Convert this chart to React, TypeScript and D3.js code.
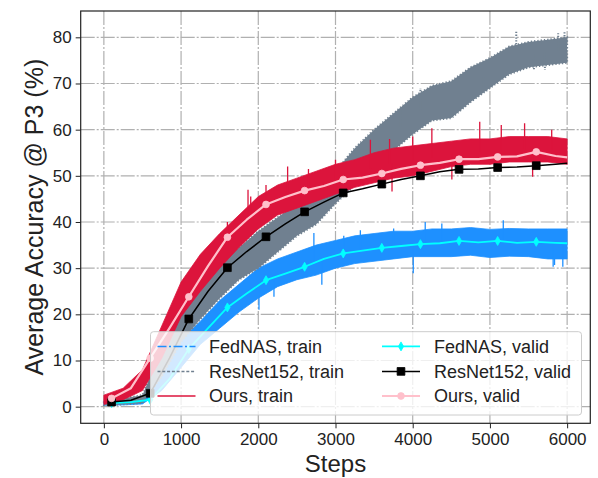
import React, { useEffect, useRef } from "react";
import * as d3 from "d3";

// x positions of the train band readings (steps)
const trainSteps = [0, 250, 500, 750, 1000, 1250, 1500, 1750, 2000, 2250, 2500, 2750, 3000, 3250, 3500, 3750, 4000, 4250, 4500, 4750, 5000, 5250, 5500, 5750, 6000];

// train curves are very noisy, so they are kept as a low / high envelope
const fedTrainLow = [0.3, 0.4, 0.6, 3.5, 8.5, 13.5, 17, 20.5, 23.5, 26, 27.5, 28.5, 30, 31, 31.5, 32, 32.5, 32.5, 32.5, 32.8, 32.3, 32.6, 32.5, 32, 32];
const fedTrainHigh = [1.2, 1.4, 2, 8.5, 14.5, 18.5, 23, 26.5, 30, 32, 33.5, 35, 36, 37, 37.5, 38, 38, 38.5, 38.5, 38.8, 38.4, 38.6, 38.5, 38.5, 38.5];
const resTrainLow = [0.3, 0.5, 0.8, 6.5, 14, 19, 23.5, 27.5, 30, 33.5, 37, 39.5, 44, 48, 52, 55.5, 59, 62, 62.5, 66, 69, 72, 73.5, 74, 74.5];
const resTrainHigh = [1.5, 1.8, 2.5, 12.5, 21, 27, 31, 34.5, 38, 41, 44, 47, 51, 56, 60, 63.5, 67, 69.5, 70.5, 73.5, 75.5, 78, 79, 79.5, 80];
const ourTrainLow = [0.5, 1.5, 3.5, 10.5, 19.5, 25, 30, 34.5, 38.5, 41.5, 43, 44.5, 46, 47.5, 48.5, 49.5, 50, 51, 52, 52.5, 52.5, 53, 53, 53, 52.5];
const ourTrainHigh = [2.5, 4, 8, 17.5, 27, 33, 37.5, 41.5, 45.5, 48, 49.5, 51, 52.5, 53.5, 55, 56, 56.5, 57, 57.5, 58, 58, 58.5, 58.5, 58.5, 58];

// single spikes that stick out of the bands
const fedSpikeSteps = [2009, 2203, 2720, 2823, 3107, 3322, 3753, 4007, 4162, 4377, 5173, 5819, 5837, 5944];
const fedSpikeValues = [21, 23.8, 37.6, 26.4, 37, 38.2, 38.6, 28.9, 40, 39.7, 40.4, 30.3, 30.7, 30.3];
const resSpikeSteps = [3840, 4100, 4911, 5341, 5570, 5712, 5884, 5966];
const resSpikeValues = [64.2, 69, 69, 81.2, 72.9, 72.9, 80.9, 81.2];
const ourSpikeSteps = [1600, 1867, 1902, 2100, 2380, 2650, 3000, 3452, 3700, 3732, 4000, 4248, 4507, 4868, 5147, 5449, 5553, 5800];
const ourSpikeValues = [40, 47, 45.5, 48, 52, 51.5, 53.5, 57.8, 58, 46.6, 58.5, 60.3, 49.2, 61.7, 61, 61.4, 49.8, 60];

// validation curves
const validSteps = [100, 350, 600, 850, 1100, 1350, 1600, 1850, 2100, 2350, 2600, 2850, 3100, 3350, 3600, 3850, 4100, 4350, 4600, 4850, 5100, 5350, 5600, 5850, 6000];
const markerSteps = [100, 600, 1100, 1600, 2100, 2600, 3100, 3600, 4100, 4600, 5100, 5600];
const fedValid = [0.8, 1.0, 1.5, 6.0, 12.5, 17.0, 21.5, 24.5, 27.4, 28.8, 30.3, 32.0, 33.2, 33.8, 34.4, 34.8, 35.2, 35.4, 35.9, 35.6, 35.9, 35.5, 35.7, 35.5, 35.4];
const resValid = [1.0, 1.4, 2.9, 10.5, 19.0, 25.0, 30.1, 33.6, 36.8, 39.6, 42.2, 44.3, 46.3, 47.2, 48.2, 49.2, 50.0, 50.9, 51.4, 51.5, 51.8, 51.9, 52.2, 52.5, 52.7];
const ourValid = [1.8, 4.0, 10.5, 17.0, 23.8, 30.5, 36.7, 40.5, 43.8, 45.4, 46.8, 47.8, 49.2, 49.6, 50.5, 51.5, 52.3, 52.8, 53.6, 53.6, 54.1, 54.2, 55.2, 54.3, 54.0];

const xTicks = [0, 1000, 2000, 3000, 4000, 5000, 6000];
const yTicks = [0, 10, 20, 30, 40, 50, 60, 70, 80];

const legendLabels = ["FedNAS, train", "ResNet152, train", "Ours, train", "FedNAS, valid", "ResNet152, valid", "Ours, valid"];

const FONT = "'Liberation Sans', Arial, sans-serif";

function AccuracyChart() {
  const ref = useRef<SVGSVGElement>(null);

  useEffect(() => {
    const svg = d3.select(ref.current);
    svg.selectAll("*").remove();

    const left = 80.7, right = 590.3, top = 11, bottom = 423.3;

    const x = d3.scaleLinear().domain([-300, 6300]).range([left, right]);
    const y = d3.scaleLinear().domain([-3.6, 85.7]).range([bottom, top]);

    svg.append("rect").attr("width", 598).attr("height", 478).attr("fill", "white");

    svg
      .append("clipPath")
      .attr("id", "plot-clip")
      .append("rect")
      .attr("x", left)
      .attr("y", top)
      .attr("width", right - left)
      .attr("height", bottom - top);

    // grid
    const grid = svg.append("g").attr("stroke", "#b0b0b0").attr("stroke-width", 1.2).attr("stroke-dasharray", "14,2,2,2");
    grid
      .selectAll(".vgrid")
      .data(xTicks)
      .join("line")
      .attr("x1", (d) => x(d))
      .attr("x2", (d) => x(d))
      .attr("y1", top)
      .attr("y2", bottom);
    grid
      .selectAll(".hgrid")
      .data(yTicks)
      .join("line")
      .attr("y1", (d) => y(d))
      .attr("y2", (d) => y(d))
      .attr("x1", left)
      .attr("x2", right);

    const plot = svg.append("g").attr("clip-path", "url(#plot-clip)");

    // train bands with their spikes
    const drawBand = (low: number[], high: number[], spikeSteps: number[], spikeValues: number[], color: string, dotted: boolean) => {
      const area = d3
        .area<number>()
        .x((d, i) => x(trainSteps[i]))
        .y0((d, i) => y(low[i]))
        .y1((d, i) => y(high[i]));
      const path = plot.append("path").attr("d", area(low)).attr("fill", color);
      if (dotted) {
        path.attr("stroke", color).attr("stroke-width", 2).attr("stroke-dasharray", "1.3,2");
      } else {
        path.attr("stroke", color).attr("stroke-width", 0.8);
      }
      const mid = d3
        .scaleLinear()
        .domain(trainSteps)
        .range(low.map((l, i) => (l + high[i]) / 2));
      plot
        .selectAll(null)
        .data(spikeSteps)
        .join("line")
        .attr("x1", (d) => x(d))
        .attr("x2", (d) => x(d))
        .attr("y1", (d) => y(mid(d)))
        .attr("y2", (d, i) => y(spikeValues[i]))
        .attr("stroke", color)
        .attr("stroke-width", dotted ? 2 : 1.3)
        .attr("stroke-dasharray", dotted ? "1.3,1.5" : null);
    };

    drawBand(fedTrainLow, fedTrainHigh, fedSpikeSteps, fedSpikeValues, "#1e90ff", false);
    drawBand(resTrainLow, resTrainHigh, resSpikeSteps, resSpikeValues, "#708090", true);
    drawBand(ourTrainLow, ourTrainHigh, ourSpikeSteps, ourSpikeValues, "crimson", false);

    // marker shapes
    const square = d3.symbol(d3.symbolSquare, 60);
    const circle = d3.symbol(d3.symbolCircle, 36);
    const thinDiamond = "M0,-4.5L2.6,0L0,4.5L-2.6,0Z";

    const drawValid = (values: number[], color: string, width: number, marker: string) => {
      const line = d3
        .line<number>()
        .x((d, i) => x(validSteps[i]))
        .y((d) => y(d));
      plot.append("path").attr("d", line(values)).attr("fill", "none").attr("stroke", color).attr("stroke-width", width).attr("stroke-linejoin", "round");
      plot
        .selectAll(null)
        .data(markerSteps)
        .join("path")
        .attr("d", marker)
        .attr("transform", (d) => `translate(${x(d)},${y(values[validSteps.indexOf(d)])})`)
        .attr("fill", color)
        .attr("stroke", color)
        .attr("stroke-width", 0.8);
    };

    drawValid(fedValid, "cyan", 1.8, thinDiamond);
    drawValid(resValid, "black", 1.5, square() as string);
    drawValid(ourValid, "pink", 2.2, circle() as string);

    // frame
    svg
      .append("rect")
      .attr("x", left)
      .attr("y", top)
      .attr("width", right - left)
      .attr("height", bottom - top)
      .attr("fill", "none")
      .attr("stroke", "#222")
      .attr("stroke-width", 1.2);

    // axes
    const xAxis = svg
      .append("g")
      .attr("transform", `translate(0,${bottom})`)
      .call(d3.axisBottom(x).tickValues(xTicks).tickSize(5).tickPadding(5).tickFormat((d) => String(d)));
    const yAxis = svg
      .append("g")
      .attr("transform", `translate(${left},0)`)
      .call(d3.axisLeft(y).tickValues(yTicks).tickSize(5).tickPadding(4).tickFormat((d) => String(d)));
    [xAxis, yAxis].forEach((g) => {
      g.select(".domain").remove();
      g.selectAll(".tick line").attr("stroke", "#222").attr("stroke-width", 1);
      g.selectAll(".tick text").attr("fill", "#222").style("font-family", FONT).style("font-size", "17px");
    });

    svg
      .append("text")
      .attr("x", (left + right) / 2)
      .attr("y", 472)
      .attr("text-anchor", "middle")
      .attr("fill", "#222")
      .style("font-family", FONT)
      .style("font-size", "24px")
      .text("Steps");

    svg
      .append("text")
      .attr("transform", `translate(43,${(top + bottom) / 2}) rotate(-90)`)
      .attr("text-anchor", "middle")
      .attr("fill", "#222")
      .style("font-family", FONT)
      .style("font-size", "25px")
      .text("Average Accuracy @ P3 (%)");

    // legend
    const legend = svg.append("g");
    legend
      .append("rect")
      .attr("x", 150.5)
      .attr("y", 331.7)
      .attr("width", 431)
      .attr("height", 83.3)
      .attr("rx", 3)
      .attr("fill", "white")
      .attr("fill-opacity", 0.8)
      .attr("stroke", "#cccccc")
      .attr("stroke-width", 1);

    const handles = [
      { color: "#1e90ff", dash: "9,2.5,2,2.5", marker: null, width: 1.5 },
      { color: "#708090", dash: "3,1.8", marker: null, width: 1.5 },
      { color: "crimson", dash: null, marker: null, width: 1.5 },
      { color: "cyan", dash: null, marker: thinDiamond, width: 1.8 },
      { color: "black", dash: null, marker: square() as string, width: 1.5 },
      { color: "pink", dash: null, marker: circle() as string, width: 2.2 },
    ];
    const colX = [157.5, 382];
    const textX = [209, 434];
    const rowBase = [352.7, 377.7, 402.3];

    legendLabels.forEach((label, i) => {
      const col = Math.floor(i / 3);
      const row = i % 3;
      const h = handles[i];
      const hy = rowBase[row] - 6.3;
      legend
        .append("line")
        .attr("x1", colX[col])
        .attr("x2", colX[col] + 38)
        .attr("y1", hy)
        .attr("y2", hy)
        .attr("stroke", h.color)
        .attr("stroke-width", h.width)
        .attr("stroke-dasharray", h.dash);
      if (h.marker) {
        legend
          .append("path")
          .attr("d", h.marker)
          .attr("transform", `translate(${colX[col] + 19},${hy})`)
          .attr("fill", h.color)
          .attr("stroke", h.color)
          .attr("stroke-width", 0.8);
      }
      legend
        .append("text")
        .attr("x", textX[col])
        .attr("y", rowBase[row])
        .attr("fill", "#222")
        .style("font-family", FONT)
        .style("font-size", "18px")
        .text(label);
    });
  }, []);

  return <svg ref={ref} width={598} height={478} style={{ display: "block" }}></svg>;
}

export default function App() {
  useEffect(() => {
    document.body.style.margin = "0";
  }, []);
  return <AccuracyChart />;
}
